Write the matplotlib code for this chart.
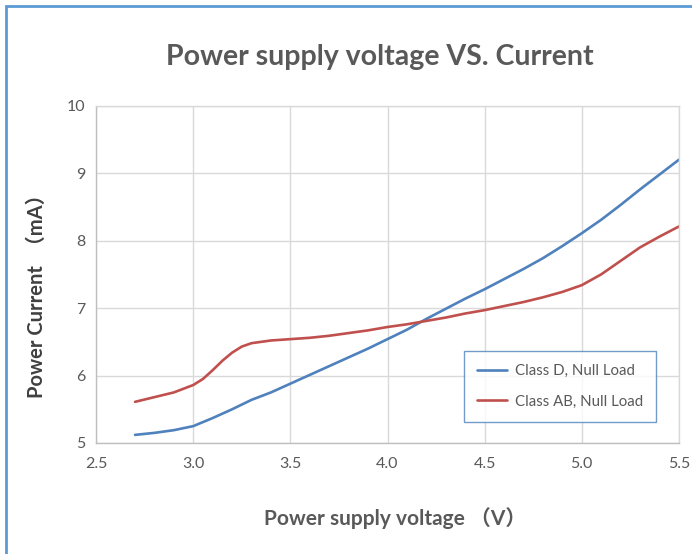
import matplotlib
matplotlib.use("Agg")
import matplotlib.pyplot as plt
from matplotlib.patches import Rectangle

voltage_d = [2.7, 2.8, 2.9, 3.0, 3.1, 3.2, 3.3, 3.4, 3.5, 3.6, 3.7, 3.8, 3.9, 4.0,
             4.1, 4.2, 4.3, 4.4, 4.5, 4.6, 4.7, 4.8, 4.9, 5.0, 5.1, 5.2, 5.3, 5.4, 5.5]
current_d = [5.12, 5.15, 5.19, 5.25, 5.37, 5.50, 5.64, 5.75, 5.88, 6.01, 6.14, 6.27, 6.40, 6.54,
             6.68, 6.84, 6.99, 7.14, 7.28, 7.43, 7.58, 7.74, 7.92, 8.11, 8.31, 8.53, 8.76, 8.98, 9.20]

voltage_ab = [2.7, 2.8, 2.9, 3.0, 3.05, 3.1, 3.15, 3.2, 3.25, 3.3, 3.4, 3.5, 3.6, 3.7, 3.8, 3.9,
              4.0, 4.1, 4.2, 4.3, 4.4, 4.5, 4.6, 4.7, 4.8, 4.9, 5.0, 5.1, 5.2, 5.3, 5.4, 5.5]
current_ab = [5.61, 5.68, 5.75, 5.86, 5.95, 6.08, 6.22, 6.34, 6.43, 6.48, 6.52, 6.54, 6.56, 6.59, 6.63, 6.67,
              6.72, 6.76, 6.81, 6.86, 6.92, 6.97, 7.03, 7.09, 7.16, 7.24, 7.34, 7.50, 7.70, 7.90, 8.06, 8.21]

labels = ["Class D, Null Load", "Class AB, Null Load"]
x_ticks = [2.5, 3.0, 3.5, 4.0, 4.5, 5.0, 5.5]
y_ticks = [5, 6, 7, 8, 9, 10]

FONT = ["Lato", "Noto Sans CJK SC", "DejaVu Sans"]
plt.rcParams["font.family"] = FONT
GREY = "#595959"

fig = plt.figure(figsize=(6.92, 5.54), dpi=100)
ax = fig.add_axes([0.139, 0.2004, 0.842, 0.6086])

ax.plot(voltage_d, current_d, color="#4F81BD", lw=1.9, label=labels[0], solid_capstyle="round")
ax.plot(voltage_ab, current_ab, color="#C0504D", lw=1.9, label=labels[1], solid_capstyle="round")

ax.set_xlim(2.5, 5.5); ax.set_ylim(5, 10)
ax.set_xticks(x_ticks); ax.set_xticklabels([f"{v:.1f}" for v in x_ticks])
ax.set_yticks(y_ticks); ax.set_yticklabels([str(v) for v in y_ticks])
ax.tick_params(length=0, labelsize=11.5, labelcolor=GREY)
ax.tick_params(axis="x", pad=10)
ax.tick_params(axis="y", pad=8)
ax.grid(color="#D9D9D9", lw=1.0)
ax.set_axisbelow(True)
for s in ax.spines.values():
    s.set_color("#D9D9D9"); s.set_linewidth(1.0)
ax.spines["left"].set_color("#BFBFBF"); ax.spines["bottom"].set_color("#BFBFBF")

ax.text(0.487, 1.145, "Power supply voltage VS. Current", transform=ax.transAxes,
        ha="center", va="center", fontsize=20.5, fontweight="bold", color=GREY)
ax.set_xlabel("Power supply voltage （V）", fontsize=15, fontweight="bold", color=GREY)
ax.xaxis.set_label_coords(0.513, -0.19)
ax.set_ylabel("Power Current  （mA）", fontsize=14.5, fontweight="bold", color="#404040")
ax.yaxis.set_label_coords(-0.085, 0.45)

leg = ax.legend(loc="lower right", bbox_to_anchor=(0.961, 0.062), fontsize=10.8, frameon=True,
                fancybox=False, handlelength=2.0, borderpad=0.9, labelspacing=1.1,
                handletextpad=0.5, borderaxespad=0)
leg.get_frame().set_edgecolor("#4F81BD"); leg.get_frame().set_linewidth(1.0)
for t in leg.get_texts():
    t.set_color(GREY)

# light-blue frame round the chart, as in the screenshot
fig.patches.append(Rectangle((6 / 692, -0.05), 1.2, 1 - 6 / 554 + 0.05, transform=fig.transFigure,
                             fill=False, edgecolor="#5B9BD5", lw=2.0))

fig.savefig("out.png", dpi=100)
